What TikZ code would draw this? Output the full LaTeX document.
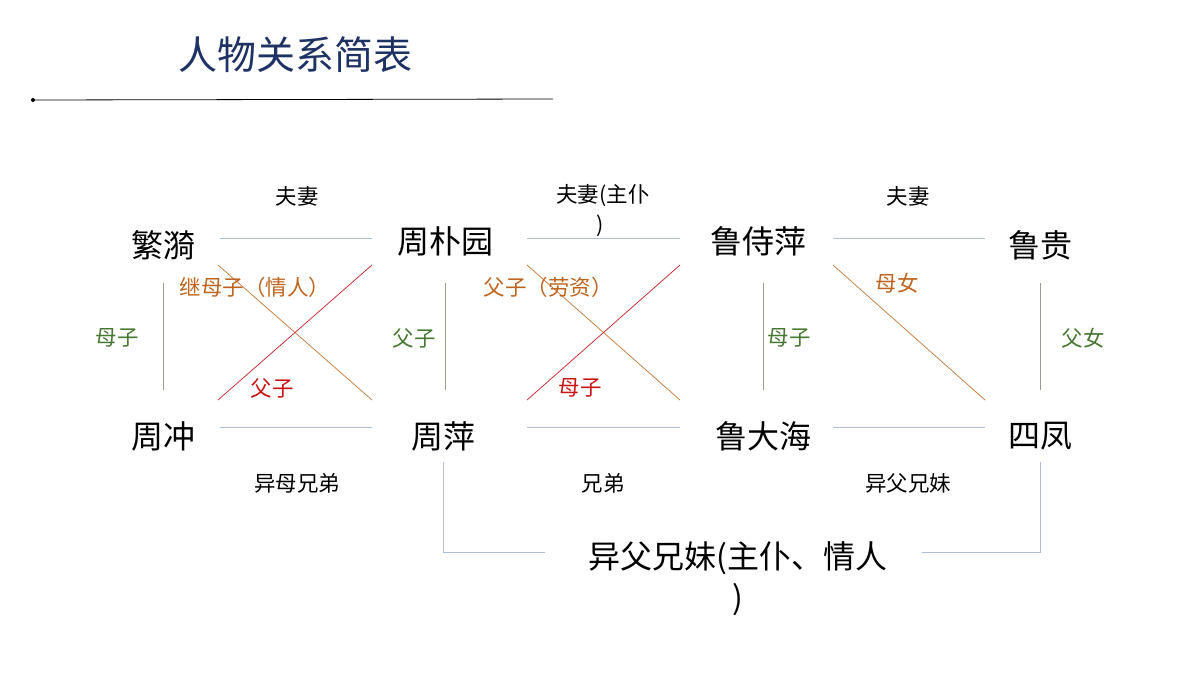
\documentclass[tikz,border=0pt]{standalone}
\usepackage{fontspec}
\setmainfont{Noto Sans CJK SC}
\begin{document}
\begin{tikzpicture}[x=1pt,y=-1pt,
  nm/.style={font=\fontsize{32}{34}\selectfont,inner sep=0pt},
  lb/.style={font=\fontsize{21.5}{23}\selectfont,inner sep=0pt},
  hl/.style={draw={rgb,255:red,175;green,190;blue,215},line width=1pt},
  vl/.style={draw={rgb,255:red,150;green,160;blue,140},line width=0.8pt},
  ol/.style={draw={rgb,255:red,200;green,130;blue,70},line width=0.8pt},
  rl/.style={draw={rgb,255:red,200;green,50;blue,60},line width=0.8pt}]
\definecolor{og}{RGB}{190,100,30}
\definecolor{gr}{RGB}{70,120,50}
\definecolor{rd}{RGB}{200,20,20}
\definecolor{tb}{RGB}{30,50,100}
\useasboundingbox (0,0) rectangle (1200,675);
\node[font=\fontsize{39}{41}\selectfont,text=tb,inner sep=0pt] (title) at (295,55) {人物关系简表};
\coordinate (ls) at (33,100); \coordinate (le) at (553,99);
\draw[line width=0.8pt] (ls) -- (le);
\fill (ls) circle (2);
\node[nm] (fy) at (163,245) {繁漪};
\node[nm] (zpy) at (445,241) {周朴园};
\node[nm] (lsp) at (758,241) {鲁侍萍};
\node[nm] (lg) at (1040,245) {鲁贵};
\node[nm] (zc) at (163,436) {周冲};
\node[nm] (zp) at (443,436) {周萍};
\node[nm] (ldh) at (763,436) {鲁大海};
\node[nm] (sf) at (1040,436) {四凤};
\foreach \a/\b/\y in {220/372/238,527/680/238,833/985/238,220/372/427,527/680/427,833/985/427}
  \draw[hl] (\a,\y) -- (\b,\y);
\foreach \x in {163,445,763,1040}
  \draw[vl] (\x,283) -- (\x,390);
\draw[ol] (218,265) -- (372,400);
\draw[rl] (218,400) -- (372,265);
\draw[ol] (527,265) -- (680,400);
\draw[rl] (527,400) -- (680,265);
\draw[ol] (833,265) -- (985,400);
\draw[hl] (443,462) -- (443,552) -- (545,552);
\draw[hl] (922,552) -- (1040,552) -- (1040,462);
\node[lb] at (297,196) {夫妻};
\node[lb] at (603,196) {夫妻(主仆};
\node[lb] at (600,226) {)};
\node[lb] at (908,196) {夫妻};
\node[lb,text=og] at (255,287) {继母子（情人）};
\node[lb,text=rd] at (272,388) {父子};
\node[lb,text=gr] at (117,338) {母子};
\node[lb,text=gr] at (414,338) {父子};
\node[lb,text=og] at (548,287) {父子（劳资）};
\node[lb,text=rd] at (580,388) {母子};
\node[lb,text=og] at (897,283) {母女};
\node[lb,text=gr] at (789,338) {母子};
\node[lb,text=gr] at (1083,338) {父女};
\node[lb] at (297,483) {异母兄弟};
\node[lb] at (603,483) {兄弟};
\node[lb] at (908,483) {异父兄妹};
\node[nm] at (738,558) {异父兄妹(主仆、情人};
\node[nm] at (738,600) {)};
\end{tikzpicture}
\end{document}
